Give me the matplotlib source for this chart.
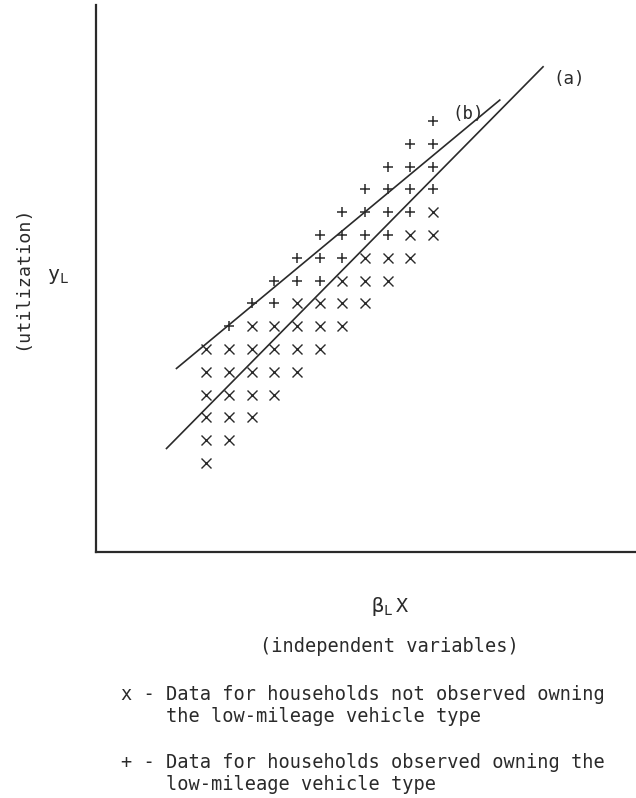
import matplotlib.pyplot as plt

# grid cells (column, row) of the typed symbols
not_owning_cols = [0, 0, 1, 0, 1, 2, 0, 1, 2, 3, 0, 1, 2, 3, 4, 0, 1, 2, 3, 4, 5,
                   2, 3, 4, 5, 6, 4, 5, 6, 7, 6, 7, 8, 7, 8, 9, 9, 10, 10]
not_owning_rows = [0, 1, 1, 2, 2, 2, 3, 3, 3, 3, 4, 4, 4, 4, 4, 5, 5, 5, 5, 5, 5,
                   6, 6, 6, 6, 6, 7, 7, 7, 7, 8, 8, 8, 9, 9, 9, 10, 10, 11]
owning_cols = [1, 2, 3, 3, 4, 5, 4, 5, 6, 5, 6, 7, 8, 6, 7, 8, 9,
               7, 8, 9, 10, 8, 9, 10, 9, 10, 10]
owning_rows = [6, 7, 7, 8, 8, 8, 9, 9, 9, 10, 10, 10, 10, 11, 11, 11, 11,
               12, 12, 12, 12, 13, 13, 13, 14, 14, 15]

# fitted lines, end points
line_a_x = [-1.76, 14.85]
line_a_y = [0.64, 17.38]
line_b_x = [-1.32, 12.94]
line_b_y = [4.15, 15.92]

W, H = 636, 798
ink = '#2a2a2a'
plt.rcParams['font.family'] = ['DejaVu Sans Mono']

fig = plt.figure(figsize=(W/100, H/100), dpi=100)
# axes box in pixels: left 96, right 636, bottom 552, top 5
ax = fig.add_axes([96/W, 1-552/H, (636-96)/W, (552-5)/H])
ax.set_xlim(-4.87, 18.95)
ax.set_ylim(-3.90, 20.09)
for s in ['top', 'right']:
    ax.spines[s].set_visible(False)
for s in ['left', 'bottom']:
    ax.spines[s].set_color(ink)
    ax.spines[s].set_linewidth(1.6)
ax.set_xticks([])
ax.set_yticks([])

ax.plot(not_owning_cols, not_owning_rows, 'x', color=ink, ms=6.5, mew=1.0)
ax.plot(owning_cols, owning_rows, '+', color=ink, ms=7, mew=1.1)
ax.plot(line_a_x, line_a_y, color=ink, lw=1.2)
ax.plot(line_b_x, line_b_y, color=ink, lw=1.2)
ax.text(15.3, 16.85, '(a)', fontsize=12.5, color=ink, va='center')
ax.text(10.85, 15.3, '(b)', fontsize=12.5, color=ink, va='center')

def ftext(x, y, s, **kw):
    fig.text(x/W, 1-y/H, s, color=ink, **kw)

fs = 13.4
ftext(22, 278, '(utilization)', fontsize=13.2, rotation=90, ha='center', va='center')
ftext(47, 276, r'$\mathregular{y_L}$', fontsize=14.5, ha='left', va='center')
ftext(390, 607, r'$\mathregular{β_L\,X}$', fontsize=14.5, ha='center', va='center')
ftext(389, 647, '(independent variables)', fontsize=fs, ha='center', va='center')
ftext(121, 695, 'x - Data for households not observed owning', fontsize=fs, va='center')
ftext(121, 717, '    the low-mileage vehicle type', fontsize=fs, va='center')
ftext(121, 762, '+ - Data for households observed owning the', fontsize=fs, va='center')
ftext(121, 784, '    low-mileage vehicle type', fontsize=fs, va='center')

fig.savefig('out.png', dpi=100)
